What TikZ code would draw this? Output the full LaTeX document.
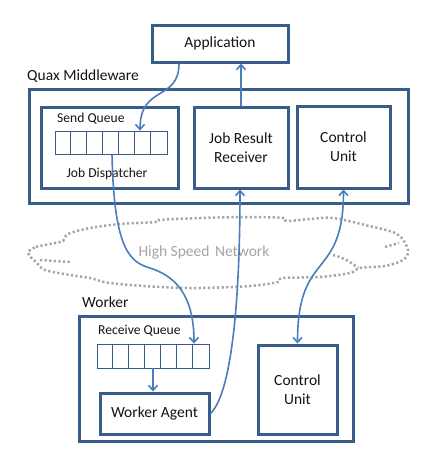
\documentclass[tikz,border=0pt]{standalone}
\usepackage{fontspec}
\setmainfont{Carlito}
\usetikzlibrary{arrows.meta,calc}
\definecolor{boxc}{RGB}{56,93,138}
\definecolor{arrc}{RGB}{74,126,187}
\definecolor{cloudc}{RGB}{165,165,165}
\definecolor{txtc}{RGB}{20,20,20}
\newcommand{\bigf}{\fontsize{15.5}{19}\selectfont}
\newcommand{\smallf}{\fontsize{13.6}{16}\selectfont}
\begin{document}
\begin{tikzpicture}[x=1pt,y=-1pt,
  box/.style={draw=boxc, line width=3pt, fill=white, inner sep=0pt, align=center, font=\bigf, text=txtc},
  queue/.style={draw=boxc, line width=0.8pt, fill=white, inner sep=0pt, minimum width=112pt, minimum height=23pt},
  divider/.style={draw=boxc, line width=0.8pt},
  tip/.tip={Straight Barb[length=5pt,width=9pt]},
  conn/.style={draw=arrc, line width=1.6pt, -tip},
  lbl/.style={inner sep=0pt, font=\bigf, text=txtc},
  small/.style={inner sep=0pt, font=\smallf, text=txtc},
  cloudline/.style={draw=cloudc, line width=2.5pt, dash pattern=on 2.2pt off 2.4pt}]
\fill[white] (0,0) rectangle (443,474);
\useasboundingbox (0,0) rectangle (443,474);

% network cloud
\draw[cloudline] plot[smooth cycle, tension=0.55] coordinates {
  (28,253) (36,247) (50,244) (63,241) (68,234) (90,228) (120,224) (155,222)
  (160,220) (200,218) (250,217) (283,218) (287,221) (310,219) (333,218)
  (365,225) (397,234) (408,250) (403,260) (385,266) (360,268) (350,273)
  (320,277) (283,278) (278,282) (250,286) (200,288) (160,287) (110,283)
  (90,278) (70,275) (45,270) (37,263)};
\draw[cloudline] (40,260) -- (70,262);
\draw[cloudline] (385,247) -- (399,243);
\draw[cloudline] (333,255) .. controls (345,258) and (352,263) .. (358,268);
\node[font=\bigf, text=cloudc] (net) at (204,252) {High Speed\hspace{2pt} Network};

% application
\node[box, minimum width=136pt, minimum height=37pt] (app) at (220,43.5) {Application};

% middleware
\node[lbl, anchor=west] (mwl) at (27,76) {Quax Middleware};
\node[box, minimum width=379pt, minimum height=114pt] (mw) at (218.5,146) {};
\node[box, minimum width=137pt, minimum height=81pt] (jd) at (110,147.5) {};
\node[small, anchor=west] (sql) at (57,119) {Send Queue};
\node[queue] (sq) at (111,142.5) {};
\foreach \i in {1,...,6}
  \draw[divider] ($(sq.north west)+(16*\i,0)$) -- ($(sq.south west)+(16*\i,0)$);
\node[small] (jdl) at (107,174) {Job Dispatcher};
\node[box, minimum width=94pt, minimum height=81pt] (jrr) at (241,147.5) {Job Result\\Receiver};
\node[box, minimum width=93pt, minimum height=82pt] (cu) at (343.5,147) {Control\\Unit};

% worker
\node[lbl, anchor=west] (wl) at (82,302) {Worker};
\node[box, minimum width=274pt, minimum height=125pt] (wk) at (216,378.5) {};
\node[small, anchor=west] (rql) at (98,331) {Receive Queue};
\node[queue, minimum height=24pt] (rq) at (153,356) {};
\foreach \i in {1,...,6}
  \draw[divider] ($(rq.north west)+(16*\i,0)$) -- ($(rq.south west)+(16*\i,0)$);
\node[box, minimum width=109pt, minimum height=41pt] (wa) at (154.5,413.5) {Worker Agent};
\node[box, minimum width=79pt, minimum height=89pt] (wcu) at (297.5,389.5) {Control\\Unit};

% connectors
\coordinate (m1) at (150,268);
\draw[conn] ([xshift=-41pt]app.south) .. controls +(0,38) and +(0,-46) .. ([xshift=29pt]sq.north);
\draw[conn] (jrr.north) -- (jrr.north |- app.south);
\draw[conn] ([xshift=1pt]sq.south) .. controls +(2,96) and (130,262) .. (m1)
  .. controls (175,276) and +(0,-49) .. ([xshift=41pt]rq.north);
\draw[conn] (wa.east) .. controls +(21,-20) and +(0,112) .. ([xshift=-1pt]jrr.south);
\draw[conn, tip-tip] (cu.south) .. controls +(0,92) and +(0,-95) .. (wcu.north);
\draw[conn] (rq.south) -- (rq.south |- wa.north);
\end{tikzpicture}
\end{document}
